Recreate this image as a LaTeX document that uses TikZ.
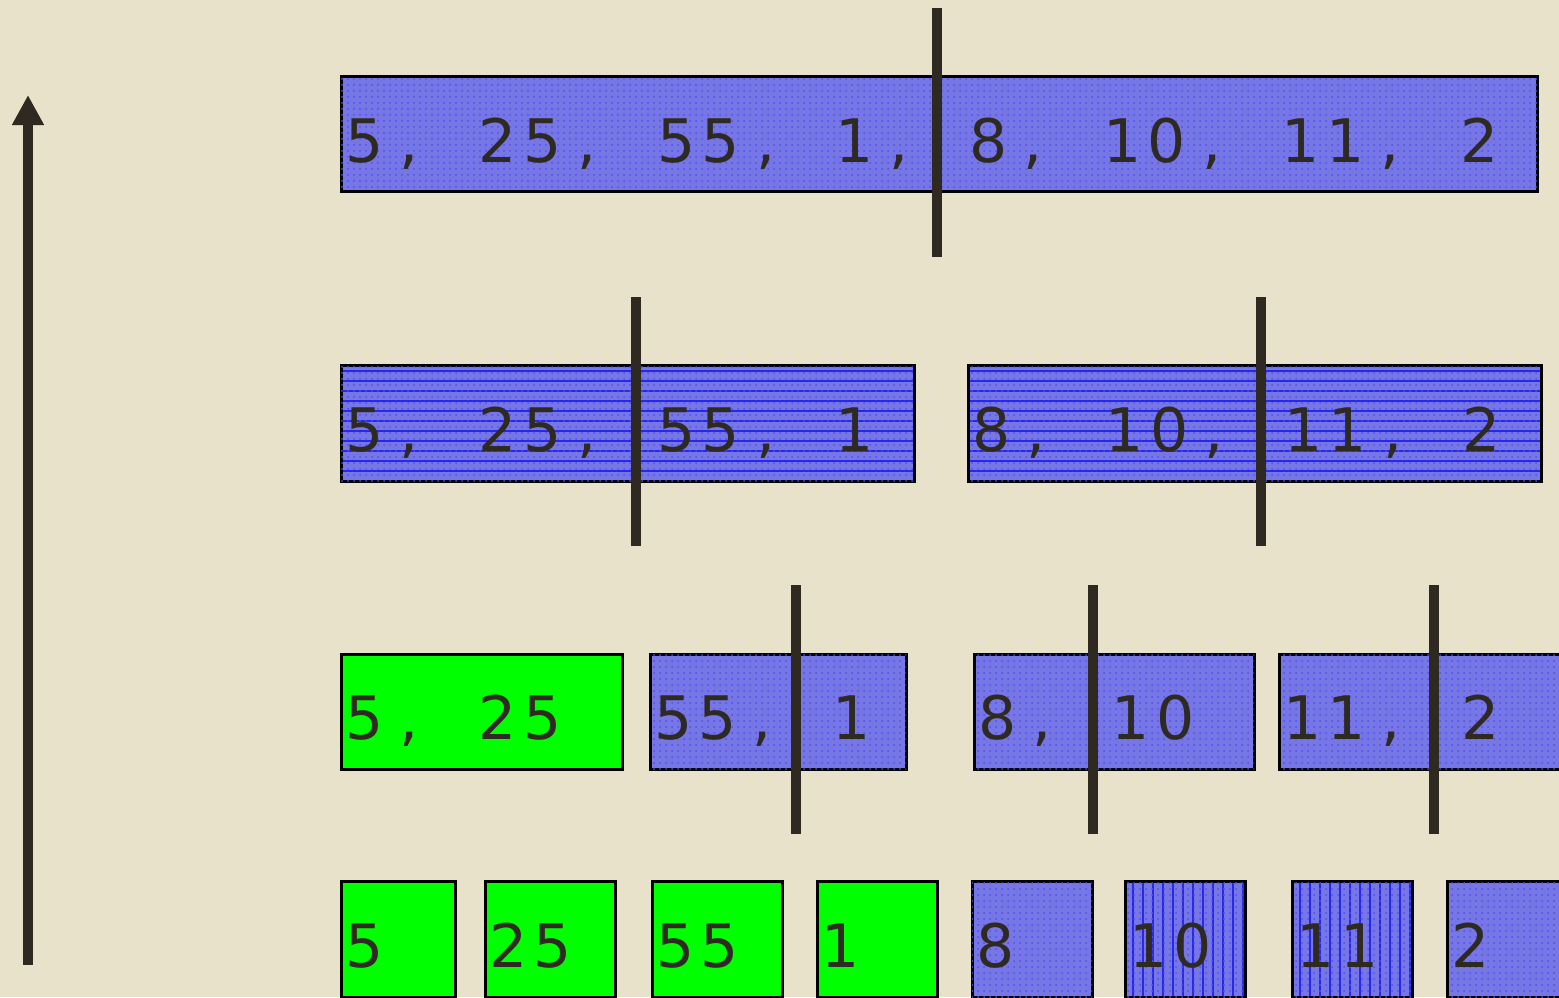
\documentclass[tikz,border=0pt]{standalone}
\usepackage{fontspec}
\newfontfamily\digitfont{DejaVu Sans}
\usetikzlibrary{arrows.meta,patterns}
\definecolor{bg}{RGB}{233,226,202}
\definecolor{ink}{RGB}{46,42,34}
\definecolor{cblue}{RGB}{118,118,228}
\definecolor{dotblue}{RGB}{80,80,240}
\definecolor{lineblue}{RGB}{40,40,235}
\definecolor{cgreen}{RGB}{0,255,0}
\makeatletter
\newcommand\cells[1]{\cells@#1\relax}
\def\cells@#1{\ifx#1\relax\else\makebox[22.3pt][c]{#1}\expandafter\cells@\fi}
\makeatother
\begin{document}
\begin{tikzpicture}[x=0.5pt,y=-0.5pt,
  cell/.style={draw=black,line width=1.5pt,inner sep=0pt,outer sep=0pt,anchor=north west},
  bluecell/.style={cell,fill=cblue,postaction={pattern=dots,pattern color=dotblue}},
  greencell/.style={cell,fill=cgreen},
  hlines/.style={bluecell,path picture={
      \foreach \k in {0,...,12}{\draw[lineblue,line width=0.6pt]
        ([yshift=-\k*5pt-3pt]path picture bounding box.north west) -- ++(400pt,0);}}},
  vlines/.style={bluecell,path picture={
      \foreach \k in {0,...,12}{\draw[lineblue,line width=0.6pt]
        ([xshift=\k*5pt+4pt]path picture bounding box.north west) -- ++(0,-80pt);}}},
  lbl/.style={anchor=base west,inner sep=0pt,outer sep=0pt,text=ink,font=\digitfont\fontsize{30pt}{30pt}\selectfont},
  divider/.style={draw=ink,line width=5pt},
  growth/.style={draw=ink,line width=5pt,-{Triangle[width=15pt,length=15pt]}}]
\fill[bg] (0,0) rectangle (1559,997);
\useasboundingbox (0,0) rectangle (1559,997);
\clip (0,0) rectangle (1559,997);

% arrow
\coordinate (abot) at (28,965);
\coordinate (atop) at (28,95);
\draw[growth] (abot) -- (atop);

% row 1
\node[bluecell,minimum width=1196*0.5pt,minimum height=115*0.5pt] (r1) at (341,76) {};
\node[lbl] (t1) at (342,162) {\cells{5,~25,~55,~1,~8,~10,~11,~2}};

% row 2
\node[hlines,minimum width=573*0.5pt,minimum height=116*0.5pt] (r2a) at (341,365) {};
\node[hlines,minimum width=573*0.5pt,minimum height=116*0.5pt] (r2b) at (968,365) {};
\node[lbl] (t2a) at (342,451) {\cells{5,~25,~55,~1}};
\node[lbl] (t2b) at (969,451) {\cells{8,~10,~11,~2}};

% row 3
\node[greencell,minimum width=281*0.5pt,minimum height=115*0.5pt] (r3a) at (341,654) {};
\node[bluecell,minimum width=256*0.5pt,minimum height=115*0.5pt] (r3b) at (650,654) {};
\node[bluecell,minimum width=280*0.5pt,minimum height=115*0.5pt] (r3c) at (974,654) {};
\node[bluecell,minimum width=300*0.5pt,minimum height=115*0.5pt] (r3d) at (1279,654) {};
\node[lbl] (t3a) at (342,739) {\cells{5,~25}};
\node[lbl] (t3b) at (651,739) {\cells{55,~1}};
\node[lbl] (t3c) at (975,739) {\cells{8,~10}};
\node[lbl] (t3d) at (1280,739) {\cells{11,~2}};

% row 4
\node[greencell,minimum width=114*0.5pt,minimum height=116*0.5pt] (r4a) at (341,881) {};
\node[greencell,minimum width=130*0.5pt,minimum height=116*0.5pt] (r4b) at (485,881) {};
\node[greencell,minimum width=130*0.5pt,minimum height=116*0.5pt] (r4c) at (652,881) {};
\node[greencell,minimum width=120*0.5pt,minimum height=116*0.5pt] (r4d) at (817,881) {};
\node[bluecell,minimum width=120*0.5pt,minimum height=116*0.5pt] (r4e) at (972,881) {};
\node[vlines,minimum width=120*0.5pt,minimum height=116*0.5pt] (r4f) at (1125,881) {};
\node[vlines,minimum width=120*0.5pt,minimum height=116*0.5pt] (r4g) at (1292,881) {};
\node[bluecell,minimum width=130*0.5pt,minimum height=116*0.5pt] (r4h) at (1447,881) {};
\node[lbl] (t4a) at (342,967) {\cells{5}};
\node[lbl] (t4b) at (486,967) {\cells{25}};
\node[lbl] (t4c) at (653,967) {\cells{55}};
\node[lbl] (t4d) at (818,967) {\cells{1}};
\node[lbl] (t4e) at (973,967) {\cells{8}};
\node[lbl] (t4f) at (1126,967) {\cells{10}};
\node[lbl] (t4g) at (1293,967) {\cells{11}};
\node[lbl] (t4h) at (1448,967) {\cells{2}};

% dividers
\draw[divider] (937,8) -- (937,257);
\draw[divider] (636,297) -- (636,546);
\draw[divider] (1261,297) -- (1261,546);
\draw[divider] (796,585) -- (796,834);
\draw[divider] (1093,585) -- (1093,834);
\draw[divider] (1434,585) -- (1434,834);
\end{tikzpicture}
\end{document}
